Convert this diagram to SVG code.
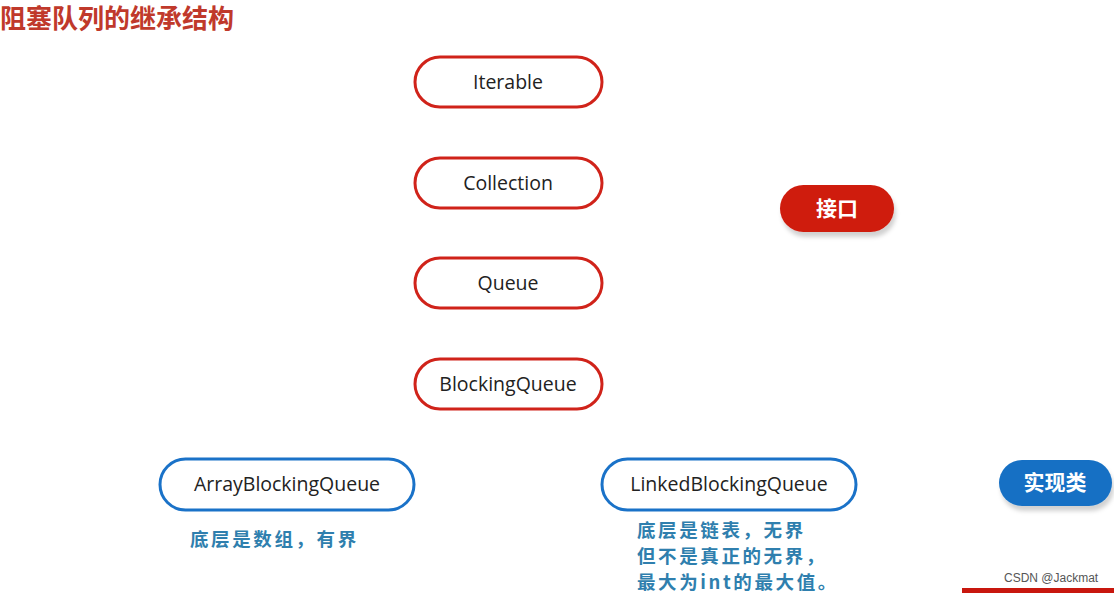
<svg xmlns="http://www.w3.org/2000/svg" width="1114" height="593" viewBox="0 0 1114 593">
<style>
.iface rect{fill:#fff;stroke:#d0231a;stroke-width:3}
.impl rect{fill:#fff;stroke:#1a72c8;stroke-width:3}
.lbl{font-family:"Open Sans","Liberation Sans",sans-serif;font-size:19.5px;fill:#222;text-anchor:middle}
.note{font-family:"Noto Sans CJK SC",sans-serif;font-size:18.5px;font-weight:bold;letter-spacing:2.6px;fill:#2f7fae}
.legend text{font-family:"Noto Sans CJK SC",sans-serif;font-size:21px;font-weight:bold;fill:#fff;text-anchor:middle}
</style>
<defs>
<filter id="sh" x="-20%" y="-20%" width="140%" height="160%"><feDropShadow dx="2" dy="5" stdDeviation="2" flood-color="#000" flood-opacity="0.18"/></filter>
</defs>
<rect width="1114" height="593" fill="#fff"/>
<text x="0" y="28" font-family="Noto Sans CJK SC,sans-serif" font-size="26" font-weight="bold" fill="#c0392b">阻塞队列的继承结构</text>
<g id="connectors"></g>
<g id="iterable" class="iface"><rect x="415" y="57" width="187" height="50" rx="25"/><text class="lbl" x="508" y="89">Iterable</text></g>
<g id="collection" class="iface"><rect x="415" y="158" width="187" height="50" rx="25"/><text class="lbl" x="508" y="190">Collection</text></g>
<g id="queue" class="iface"><rect x="415" y="258" width="187" height="50" rx="25"/><text class="lbl" x="508" y="290">Queue</text></g>
<g id="blockingqueue" class="iface"><rect x="415" y="359" width="187" height="50" rx="25"/><text class="lbl" x="508" y="391">BlockingQueue</text></g>
<g id="arrayblockingqueue" class="impl"><rect x="160" y="459" width="254" height="51" rx="25.5"/><text class="lbl" x="287" y="491">ArrayBlockingQueue</text></g>
<g id="linkedblockingqueue" class="impl"><rect x="602" y="459" width="254" height="51" rx="25.5"/><text class="lbl" x="729" y="491">LinkedBlockingQueue</text></g>
<g id="legend-interface" class="legend"><rect x="780" y="185" width="114" height="47" rx="23.5" fill="#cf1a0b" filter="url(#sh)"/><text x="837" y="216">接口</text></g>
<g id="legend-impl" class="legend"><rect x="999" y="460" width="113" height="46" rx="23" fill="#1570c4" filter="url(#sh)"/><text x="1055" y="490">实现类</text></g>
<g id="notes">
<text class="note" x="190" y="546">底层是数组，有界</text>
<text class="note" x="637" y="537">底层是链表，无界</text>
<text class="note" x="637" y="563">但不是真正的无界，</text>
<text class="note" x="637" y="589">最大为int的最大值。</text>
</g>
<rect x="962" y="588" width="152" height="5" fill="#c8170e"/>
<text x="1004" y="582" font-family="Liberation Sans,sans-serif" font-size="12" fill="#555">CSDN @Jackmat</text>
</svg>
